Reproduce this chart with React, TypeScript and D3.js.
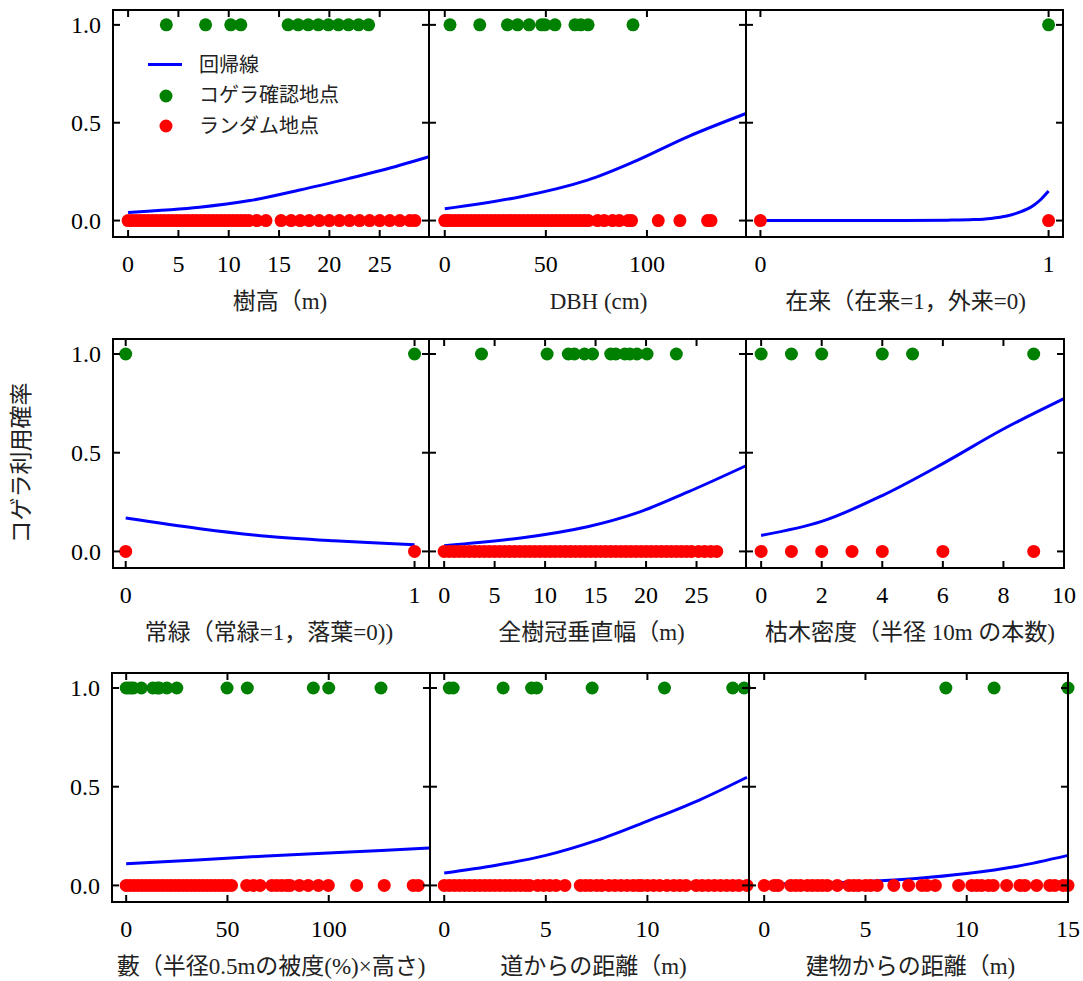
import * as d3 from 'd3';

// 樹高 (m)
const heightGreen = [3.8, 7.7, 10.2, 11.2, 15.9, 16.9, 17.9, 18.9, 19.9, 20.9, 21.9, 22.9, 23.9];
const heightRed = [0, 0.4, 0.8, 1.2, 1.6, 2, 2.4, 2.8, 3.2, 3.6, 4, 4.4, 4.8, 5.2, 5.6, 6, 6.4, 6.8, 7.2, 7.6, 8, 8.4, 8.8, 9.2, 9.6, 10, 10.4, 10.8, 11.2, 11.6, 12, 12.8, 13.7, 15.2, 16.2, 17.1, 18, 19, 20, 21, 22, 23, 24, 25, 26, 27, 28, 28.5];
const heightCurveX = [0, 7.1, 12.1, 17.05, 22, 25.3, 29.9];
const heightCurveY = [0.041, 0.068, 0.102, 0.156, 0.216, 0.258, 0.326];

// DBH (cm)
const dbhGreen = [2.6, 17.3, 31, 36, 41.7, 47.9, 49.5, 54.5, 64.4, 67.3, 70.9, 93.1];
const dbhRed = [0, 1.5, 3, 5, 7, 9, 11, 13, 15, 17, 19, 21, 23, 25, 27, 29, 31, 33, 35, 37, 39, 41, 43, 45, 47, 49, 51, 53, 55, 57, 59, 61, 63, 65, 67, 69, 71, 75.6, 78.9, 83, 86.3, 90.7, 92.4, 105.6, 116.3, 130, 131.7];
const dbhCurveX = [0, 37.6, 70.6, 95.4, 120.1, 149];
const dbhCurveY = [0.06, 0.122, 0.207, 0.309, 0.428, 0.547];

// 在来
const nativeGreen = [1];
const nativeRed = [0, 1];
const nativeCurveX = [0, 0.3, 0.5, 0.65, 0.74, 0.8, 0.855, 0.9, 0.925, 0.95, 0.971, 1];
const nativeCurveY = [0, 0, 0.0002, 0.002, 0.005, 0.011, 0.023, 0.043, 0.058, 0.08, 0.105, 0.151];

// 常緑
const evergreenGreen = [0, 1];
const evergreenRed = [0, 1];
const evergreenCurveX = [0, 0.257, 0.489, 0.72, 1];
const evergreenCurveY = [0.169, 0.115, 0.077, 0.054, 0.034];

// 全樹冠垂直幅 (m)
const crownGreen = [3.7, 10.2, 12.3, 12.9, 13.9, 14.7, 16.5, 17.0, 17.9, 18.4, 19.1, 20.1, 23.0];
const crownRed = [0, 0.5, 1, 1.5, 2, 2.5, 3, 3.5, 4, 4.5, 5, 5.5, 6, 6.5, 7, 7.5, 8, 8.5, 9, 9.5, 10, 10.5, 11, 11.5, 12, 12.5, 13, 13.5, 14, 14.5, 15, 15.5, 16, 16.5, 17, 17.5, 18, 18.5, 19, 19.5, 20, 20.5, 21, 21.5, 22, 22.5, 23, 23.5, 24, 24.5, 25.2, 25.8, 26.4, 27];
const crownCurveX = [0, 7.6, 14.2, 19.1, 24.1, 29.9];
const crownCurveY = [0.029, 0.068, 0.125, 0.195, 0.3, 0.434];

// 枯木密度
const snagGreen = [0, 1, 2, 4, 5, 9];
const snagRed = [0, 1, 2, 3, 4, 6, 9];
const snagCurveX = [0, 2, 4, 6, 8, 10];
const snagCurveY = [0.081, 0.152, 0.283, 0.445, 0.62, 0.774];

// 藪
const bushGreen = [0, 1.2, 2.5, 3.6, 7.5, 13.2, 15.4, 16.4, 20.1, 25, 49.8, 59.8, 92.4, 100, 125.8];
const bushRed = [0, 2, 4, 6, 8, 10, 12, 14, 16, 18, 20, 22, 24, 26, 28, 30, 32, 34, 36, 38, 40, 42, 44, 46, 48, 50, 52, 59.5, 62.8, 66.1, 71.9, 74.3, 76.8, 79.3, 80.9, 85.5, 89.9, 94.9, 99.8, 113.8, 127.4, 141.7, 144.2];
const bushCurveX = [0, 35, 69.4, 110, 149.6];
const bushCurveY = [0.11, 0.129, 0.149, 0.169, 0.19];

// 道からの距離 (m)
const roadGreen = [0.25, 0.44, 2.9, 4.3, 4.55, 7.28, 10.84, 14.2, 14.76];
const roadRed = [0, 0.25, 0.5, 0.75, 1, 1.25, 1.5, 1.75, 2, 2.25, 2.5, 2.75, 3, 3.25, 3.5, 3.75, 4, 4.2, 4.6, 4.9, 5.2, 5.5, 5.94, 6.7, 6.95, 7.2, 7.5, 7.75, 8.1, 8.4, 8.7, 9.0, 9.3, 9.56, 9.72, 10.0, 10.3, 10.6, 10.96, 11.3, 11.6, 11.9, 12.4, 12.7, 13.0, 13.3, 13.6, 13.9, 14.2, 14.5, 14.9];
const roadCurveX = [0, 2.5, 5, 7.5, 10, 12.5, 14.9];
const roadCurveY = [0.063, 0.101, 0.152, 0.228, 0.326, 0.43, 0.548];

// 建物からの距離 (m)
const buildingGreen = [8.97, 11.35, 15.0];
const buildingRed = [0, 0.49, 0.69, 1.31, 1.56, 1.8, 2.13, 2.38, 2.63, 2.87, 3.12, 3.61, 4.18, 4.43, 4.67, 5.0, 5.25, 5.58, 6.4, 7.13, 7.79, 8.04, 8.45, 9.6, 10.25, 10.5, 10.74, 11.07, 11.31, 11.97, 12.63, 12.87, 13.45, 14.1, 14.35, 14.76, 15.0];
const buildingCurveX = [0, 2.5, 5, 7.5, 10, 12.5, 15];
const buildingCurveY = [0.007, 0.011, 0.02, 0.035, 0.06, 0.097, 0.152];

const yTicks = [0, 0.5, 1];
const yTickLabels = ['0.0', '0.5', '1.0'];
const legendLabels = ['回帰線', 'コゲラ確認地点', 'ランダム地点'];
const yTitle = 'コゲラ利用確率';

// layout (pixel frame of each row)
const rowTops = [10, 339, 673];
const rowBottoms = [237, 568, 902];
const colEdges = [
  [113, 429, 746, 1063],
  [113, 429, 746, 1064],
  [112, 430, 749, 1068],
];
const titleShift = [9, 11, 1, -2, 4, 5, 0, 4, 2];

const FONT = "'Liberation Serif', 'Noto Sans CJK JP', serif";
const BLUE = '#0000ff';
const GREEN = '#008000';
const RED = '#ff0000';
const R = 6.5;

type PanelDef = {
  title: string;
  domain: [number, number];
  ticks: number[];
  green: number[];
  red: number[];
  cx: number[];
  cy: number[];
};

const panels: PanelDef[] = [
  { title: '樹高（m)', domain: [-1.5, 29.9], ticks: [0, 5, 10, 15, 20, 25], green: heightGreen, red: heightRed, cx: heightCurveX, cy: heightCurveY },
  { title: 'DBH (cm)', domain: [-7.8, 149], ticks: [0, 50, 100], green: dbhGreen, red: dbhRed, cx: dbhCurveX, cy: dbhCurveY },
  { title: '在来（在来=1，外来=0)', domain: [-0.05, 1.05], ticks: [0, 1], green: nativeGreen, red: nativeRed, cx: nativeCurveX, cy: nativeCurveY },
  { title: '常緑（常緑=1，落葉=0))', domain: [-0.044, 1.05], ticks: [0, 1], green: evergreenGreen, red: evergreenRed, cx: evergreenCurveX, cy: evergreenCurveY },
  { title: '全樹冠垂直幅（m)', domain: [-1.5, 29.9], ticks: [0, 5, 10, 15, 20, 25], green: crownGreen, red: crownRed, cx: crownCurveX, cy: crownCurveY },
  { title: '枯木密度（半径 10m の本数)', domain: [-0.5, 10], ticks: [0, 2, 4, 6, 8, 10], green: snagGreen, red: snagRed, cx: snagCurveX, cy: snagCurveY },
  { title: '藪（半径0.5mの被度(%)×高さ)', domain: [-7, 150], ticks: [0, 50, 100], green: bushGreen, red: bushRed, cx: bushCurveX, cy: bushCurveY },
  { title: '道からの距離（m)', domain: [-0.7, 15], ticks: [0, 5, 10], green: roadGreen, red: roadRed, cx: roadCurveX, cy: roadCurveY },
  { title: '建物からの距離（m)', domain: [-0.75, 15], ticks: [0, 5, 10, 15], green: buildingGreen, red: buildingRed, cx: buildingCurveX, cy: buildingCurveY },
];

function Panel({ p, index }: { p: PanelDef; index: number }) {
  const row = Math.floor(index / 3);
  const col = index % 3;
  const x0 = colEdges[row][col];
  const x1 = colEdges[row][col + 1];
  const top = rowTops[row];
  const bottom = rowBottoms[row];
  const x = d3.scaleLinear().domain(p.domain).range([x0, x1]);
  const y = d3.scaleLinear().domain([-0.084, 1.076]).range([bottom, top]);
  const line = d3
    .line<number>()
    .x((_, i) => x(p.cx[i]))
    .y((d) => y(d))
    .curve(d3.curveCatmullRom.alpha(0.5));
  const tl = 7;
  return (
    <g>
      <path d={line(p.cy) || ''} fill="none" stroke={BLUE} strokeWidth={3} />
      {p.red.map((v, i) => (
        <circle key={'r' + i} cx={x(v)} cy={y(0)} r={R} fill={RED} />
      ))}
      {p.green.map((v, i) => (
        <circle key={'g' + i} cx={x(v)} cy={y(1)} r={R} fill={GREEN} />
      ))}
      <rect x={x0} y={top} width={x1 - x0} height={bottom - top} fill="none" stroke="#000" strokeWidth={2} />
      {p.ticks.map((t) => (
        <g key={'xt' + t}>
          <line x1={x(t)} x2={x(t)} y1={bottom} y2={bottom - tl} stroke="#000" strokeWidth={2} />
          <line x1={x(t)} x2={x(t)} y1={top} y2={top + tl} stroke="#000" strokeWidth={2} />
          <text x={x(t)} y={bottom + 35} textAnchor="middle" fontSize={24} fontFamily={FONT}>
            {String(t)}
          </text>
        </g>
      ))}
      {yTicks.map((t, i) => (
        <g key={'yt' + t}>
          <line x1={x0} x2={x0 + tl} y1={y(t)} y2={y(t)} stroke="#000" strokeWidth={2} />
          <line x1={x1} x2={x1 - tl} y1={y(t)} y2={y(t)} stroke="#000" strokeWidth={2} />
          {col === 0 && (
            <text x={x0 - 12} y={y(t)} dy="0.34em" textAnchor="end" fontSize={24} fontFamily={FONT}>
              {yTickLabels[i]}
            </text>
          )}
        </g>
      ))}
      <text x={(x0 + x1) / 2 + titleShift[index]} y={bottom + 72} textAnchor="middle" fontSize={23} fontFamily={FONT} fill="#222">
        {p.title}
      </text>
    </g>
  );
}

export default function App() {
  return (
    <svg width={1083} height={981} style={{ position: 'absolute', left: 0, top: 0, background: '#fff' }}>
      <rect width={1083} height={981} fill="#fff" />
      {panels.map((p, i) => (
        <Panel key={i} p={p} index={i} />
      ))}
      {/* legend */}
      <line x1={148} x2={182} y1={64.5} y2={64.5} stroke={BLUE} strokeWidth={3} />
      <circle cx={166} cy={96} r={R} fill={GREEN} />
      <circle cx={166} cy={126} r={R} fill={RED} />
      {legendLabels.map((l, i) => (
        <text key={l} x={199} y={64.5 + i * 30.5} dominantBaseline="central" fontSize={20} fontFamily={FONT} fill="#222">
          {l}
        </text>
      ))}
      <text
        transform="translate(21,463) rotate(-90)"
        textAnchor="middle"
        dominantBaseline="central"
        fontSize={23}
        fontFamily={FONT}
        fill="#222"
      >
        {yTitle}
      </text>
    </svg>
  );
}
